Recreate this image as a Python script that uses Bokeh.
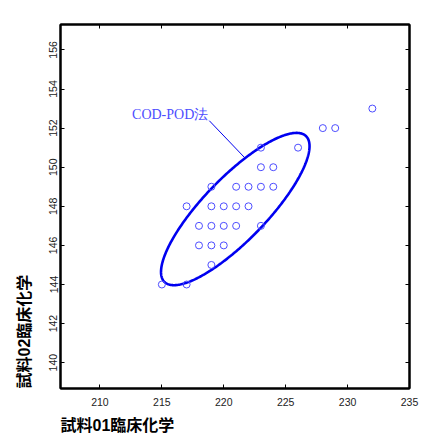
import numpy as np
from bokeh.plotting import figure
from bokeh.models import (FixedTicker, LinearAxis, Title, CustomJSTickFormatter,
                          ColumnDataSource, Label)
from bokeh.embed import file_html
from bokeh.resources import INLINE

# ---- data ----
x_vals = [215, 217, 217, 218, 218, 219, 219, 219, 219, 219,
          220, 220, 220, 221, 221, 221, 222, 222, 223, 223,
          223, 223, 224, 224, 226, 228, 229, 232]
y_vals = [144, 144, 148, 146, 147, 145, 146, 147, 148, 149,
          146, 147, 148, 147, 148, 149, 148, 149, 147, 149,
          150, 151, 149, 150, 151, 152, 152, 153]

x_ticks = [210, 215, 220, 225, 230, 235]
y_ticks = [140, 142, 144, 146, 148, 150, 152, 154, 156]

x_label = "試料01臨床化学"
y_label = "試料02臨床化学"
method_label = "COD-POD法"

X_RANGE = (206.815, 235.0)
Y_RANGE = (138.68, 157.30)

# ellipse (COD-POD) parameters: centre and shape matrix in data units
ell_center = [220.93, 147.86]
ell_matrix = [[35.96, 19.28], [19.28, 15.17]]

# annotation positions (data units)
label_pos = [218.75, 152.68]
leader_x = [218.83, 221.76]
leader_y = [152.38, 150.44]

PT_COLOR = "#4d4dff"
ELL_COLOR = "#0000f0"
TITLE_FONT = "Liberation Sans, Noto Sans CJK JP"

p = figure(width=426, height=439, x_range=X_RANGE, y_range=Y_RANGE,
           output_backend="svg", toolbar_location=None, title=None,
           min_border_left=60, min_border_right=17, min_border_top=24, min_border_bottom=51,
           background_fill_color="white", border_fill_color="white")

p.xgrid.visible = False
p.ygrid.visible = False
p.outline_line_color = "black"
p.outline_line_width = 2

def style_axis(ax, ticks):
    ax.ticker = FixedTicker(ticks=ticks)
    ax.axis_line_color = "black"
    ax.axis_line_width = 2
    ax.major_tick_in = 4
    ax.major_tick_out = 0
    ax.major_tick_line_color = "black"
    ax.major_tick_line_width = 1
    ax.minor_tick_line_color = None
    ax.major_label_text_font = "Liberation Sans"
    ax.major_label_text_font_size = "10.5px"
    ax.major_label_text_color = "#222222"

style_axis(p.xaxis[0], x_ticks)
style_axis(p.yaxis[0], y_ticks)
p.xaxis.major_label_standoff = 9
p.yaxis.major_label_standoff = 3
p.yaxis.major_label_orientation = "vertical"

top_axis = LinearAxis(formatter=CustomJSTickFormatter(code="return ''"))
style_axis(top_axis, x_ticks)
top_axis.major_label_standoff = 0
p.add_layout(top_axis, "above")
right_axis = LinearAxis(formatter=CustomJSTickFormatter(code="return ''"))
style_axis(right_axis, y_ticks)
right_axis.major_label_standoff = 0
p.add_layout(right_axis, "right")

# axis titles
p.add_layout(Title(text=x_label, align="left", text_font=TITLE_FONT,
                   text_font_size="16px", text_font_style="bold", text_color="black",
                   standoff=12), "below")
p.add_layout(Title(text=y_label, align="left", text_font=TITLE_FONT,
                   text_font_size="16px", text_font_style="bold", text_color="black",
                   standoff=27), "left")

# ellipse outline computed from its parameters
t = np.linspace(0, 2 * np.pi, 361)
L = np.linalg.cholesky(np.array(ell_matrix))
ex = ell_center[0] + L[0, 0] * np.cos(t)
ey = ell_center[1] + L[1, 0] * np.cos(t) + L[1, 1] * np.sin(t)
p.line(ex, ey, line_color=ELL_COLOR, line_width=2.6)

# points
src = ColumnDataSource(dict(x=x_vals, y=y_vals))
p.scatter("x", "y", source=src, marker="circle", size=7, fill_color=None,
          line_color=PT_COLOR, line_width=1)

# leader line and label
p.line(leader_x, leader_y, line_color=ELL_COLOR, line_width=1)
p.add_layout(Label(x=label_pos[0], y=label_pos[1], text=method_label,
                   text_align="right", text_baseline="middle",
                   text_font="Liberation Serif", text_font_size="14px",
                   text_color=PT_COLOR))

open("out.html", "w").write(file_html(p, INLINE))
